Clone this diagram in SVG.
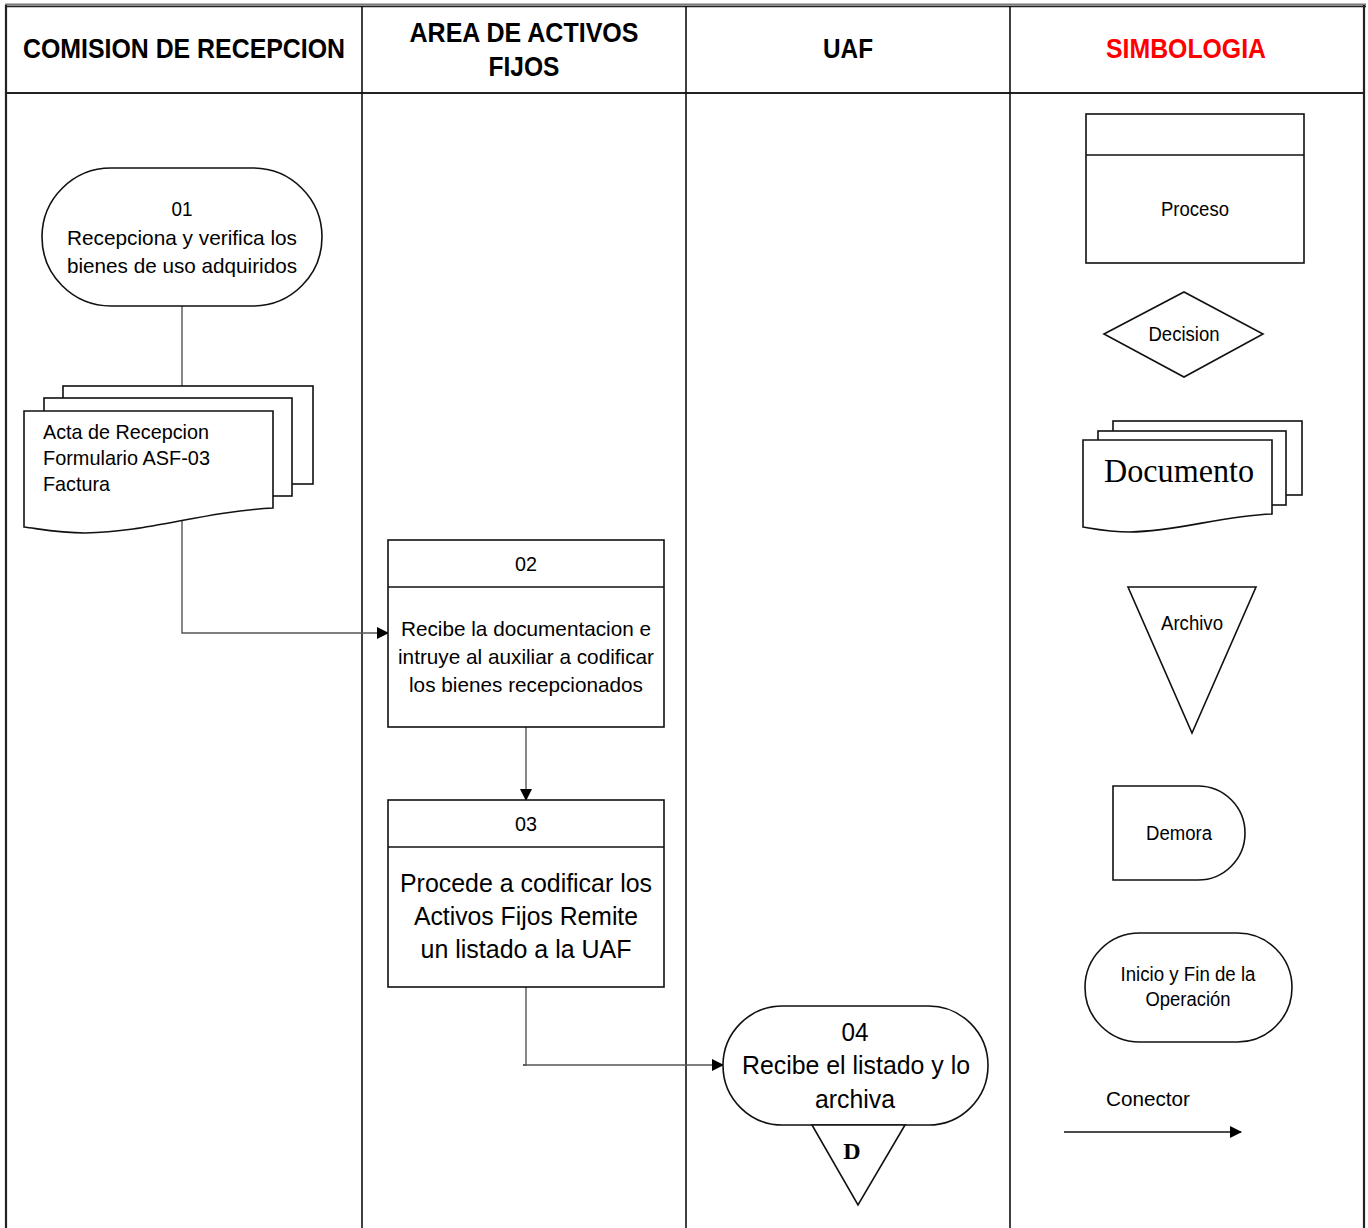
<svg xmlns="http://www.w3.org/2000/svg" width="1368" height="1228" viewBox="0 0 1368 1228">
  <style>
    .t { font-family: "Liberation Sans Narrow", "Liberation Sans", Arial, sans-serif; fill: #000; text-anchor: middle; }
    .hd { font-size: 28px; font-weight: bold; }
    .lane { stroke: #111; stroke-width: 1.6; fill: none; }
    .frame { stroke: #222; stroke-width: 2.2; fill: none; }
    .shape { stroke: #111; stroke-width: 1.6; fill: #fff; }
    .conn { stroke: #555; stroke-width: 1.4; fill: none; }
    .f21 { font-size: 21px; }
    .f26 { font-size: 26px; }
    .f19 { font-size: 19.5px; }
  </style>
  <defs>
    <marker id="arrow" viewBox="0 0 12 12" refX="11" refY="6" markerWidth="12" markerHeight="12" markerUnits="userSpaceOnUse" orient="auto">
      <path d="M0,0 L12,6 L0,12 Z" fill="#000"/>
    </marker>
  </defs>

  <rect width="1368" height="1228" fill="#fff"/>

  <!-- swimlane frame -->
  <g id="frame">
    <line x1="5" y1="4.5" x2="1366" y2="4.5" stroke="#777" stroke-width="2"/>
    <line x1="5" y1="6.5" x2="1366" y2="6.5" stroke="#222" stroke-width="1.5"/>
    <line class="frame" x1="6" y1="5" x2="6" y2="1228"/>
    <line class="frame" x1="1364" y1="5" x2="1364" y2="1228"/>
    <line class="frame" x1="6" y1="93" x2="1364" y2="93"/>
    <line class="lane" x1="362" y1="6" x2="362" y2="1228"/>
    <line class="lane" x1="686" y1="6" x2="686" y2="1228"/>
    <line class="lane" x1="1010" y1="6" x2="1010" y2="1228"/>
  </g>

  <!-- lane headers -->
  <g id="headers" lengthAdjust="spacingAndGlyphs">
    <text class="t hd" x="184" y="58" textLength="322" lengthAdjust="spacingAndGlyphs">COMISION DE RECEPCION</text>
    <text class="t hd" x="524" y="42" textLength="229" lengthAdjust="spacingAndGlyphs">AREA DE ACTIVOS</text>
    <text class="t hd" x="524" y="76" textLength="71" lengthAdjust="spacingAndGlyphs">FIJOS</text>
    <text class="t hd" x="848" y="58" textLength="50" lengthAdjust="spacingAndGlyphs">UAF</text>
    <text class="t hd" x="1186" y="58" textLength="160" lengthAdjust="spacingAndGlyphs" style="fill:#f00">SIMBOLOGIA</text>
  </g>

  <!-- connectors -->
  <g id="connectors">
    <line class="conn" x1="182" y1="306" x2="182" y2="387"/>
    <polyline class="conn" points="182,514 182,633 388,633" marker-end="url(#arrow)"/>
    <line class="conn" x1="526" y1="727" x2="526" y2="800" stroke="#222" marker-end="url(#arrow)"/>
    <polyline class="conn" points="526,987 526,1065 523,1065"/>
    <line class="conn" x1="523" y1="1065" x2="723" y2="1065" marker-end="url(#arrow)"/>
  </g>

  <!-- 01: start -->
  <g id="n01">
    <rect class="shape" x="42" y="168" width="280" height="138" rx="69" ry="69"/>
    <text class="t f21" x="182" y="216" textLength="21" lengthAdjust="spacingAndGlyphs">01</text>
    <text class="t f21" x="182" y="245" textLength="230" lengthAdjust="spacingAndGlyphs">Recepciona y verifica los</text>
    <text class="t f21" x="182" y="273" textLength="230" lengthAdjust="spacingAndGlyphs">bienes de uso adquiridos</text>
  </g>

  <!-- documents produced by 01 -->
  <g id="docs01">
    <rect class="shape" x="63" y="386" width="250" height="98"/>
    <rect class="shape" x="44" y="398" width="248" height="98"/>
    <path class="shape" d="M24,411 H273 V508 C200,512 150,532 85,533 C60,533 40,529 24,527 Z"/>
    <text class="t f21" x="43" y="439" style="text-anchor:start" textLength="166" lengthAdjust="spacingAndGlyphs">Acta de Recepcion</text>
    <text class="t f21" x="43" y="465" style="text-anchor:start" textLength="167" lengthAdjust="spacingAndGlyphs">Formulario ASF-03</text>
    <text class="t f21" x="43" y="491" style="text-anchor:start" textLength="67" lengthAdjust="spacingAndGlyphs">Factura</text>
  </g>

  <!-- 02 -->
  <g id="n02">
    <rect class="shape" x="388" y="540" width="276" height="187"/>
    <line class="shape" x1="388" y1="587" x2="664" y2="587"/>
    <text class="t f21" x="526" y="571" textLength="22" lengthAdjust="spacingAndGlyphs">02</text>
    <text class="t f21" x="526" y="636" textLength="250" lengthAdjust="spacingAndGlyphs">Recibe la documentacion e</text>
    <text class="t f21" x="526" y="664" textLength="256" lengthAdjust="spacingAndGlyphs">intruye al auxiliar a codificar</text>
    <text class="t f21" x="526" y="692" textLength="234" lengthAdjust="spacingAndGlyphs">los bienes recepcionados</text>
  </g>

  <!-- 03 -->
  <g id="n03">
    <rect class="shape" x="388" y="800" width="276" height="187"/>
    <line class="shape" x1="388" y1="847" x2="664" y2="847"/>
    <text class="t f21" x="526" y="831" textLength="22" lengthAdjust="spacingAndGlyphs">03</text>
    <text class="t f26" x="526" y="892" textLength="252" lengthAdjust="spacingAndGlyphs">Procede a codificar los</text>
    <text class="t f26" x="526" y="925" textLength="224" lengthAdjust="spacingAndGlyphs">Activos Fijos Remite</text>
    <text class="t f26" x="526" y="958" textLength="211" lengthAdjust="spacingAndGlyphs">un listado a la UAF</text>
  </g>

  <!-- 04: end, with archive mark -->
  <g id="n04">
    <rect class="shape" x="723" y="1006" width="265" height="119" rx="59.5" ry="59.5"/>
    <path class="shape" d="M812,1125 L905,1125 L858,1205 Z"/>
    <text x="852" y="1159" style="font-family:'Liberation Serif',serif;font-weight:bold;font-size:24px;text-anchor:middle">D</text>
    <text class="t f26" x="855" y="1041" textLength="27" lengthAdjust="spacingAndGlyphs">04</text>
    <text class="t f26" x="856" y="1074" textLength="228" lengthAdjust="spacingAndGlyphs">Recibe el listado y lo</text>
    <text class="t f26" x="855" y="1108" textLength="80" lengthAdjust="spacingAndGlyphs">archiva</text>
  </g>

  <!-- legend -->
  <g id="legend-proceso">
    <rect class="shape" x="1086" y="114" width="218" height="149"/>
    <line class="shape" x1="1086" y1="155" x2="1304" y2="155"/>
    <text class="t f19" x="1195" y="216" textLength="68" lengthAdjust="spacingAndGlyphs">Proceso</text>
  </g>
  <g id="legend-decision">
    <path class="shape" d="M1104,334 L1184,292 L1263,334 L1184,377 Z"/>
    <text class="t f19" x="1184" y="341" textLength="71" lengthAdjust="spacingAndGlyphs">Decision</text>
  </g>
  <g id="legend-documento">
    <rect class="shape" x="1113" y="421" width="189" height="74"/>
    <rect class="shape" x="1098" y="431" width="188" height="74"/>
    <path class="shape" d="M1083,440 H1272 V514 C1220,516 1180,531 1130,532 C1110,532 1095,529 1083,527 Z"/>
    <text x="1179" y="482" style="font-family:'Liberation Serif',serif;font-size:34px;text-anchor:middle" textLength="150" lengthAdjust="spacingAndGlyphs">Documento</text>
  </g>
  <g id="legend-archivo">
    <path class="shape" d="M1128,587 L1256,587 L1192,733 Z"/>
    <text class="t f19" x="1192" y="630" textLength="62" lengthAdjust="spacingAndGlyphs">Archivo</text>
  </g>
  <g id="legend-demora">
    <path class="shape" d="M1113,786 H1198 A47,47 0 0 1 1198,880 H1113 Z"/>
    <text class="t f19" x="1179" y="840" textLength="66" lengthAdjust="spacingAndGlyphs">Demora</text>
  </g>
  <g id="legend-inicio">
    <rect class="shape" x="1085" y="933" width="207" height="109" rx="54.5" ry="54.5"/>
    <text class="t f19" x="1188" y="981" textLength="135" lengthAdjust="spacingAndGlyphs">Inicio y Fin de la</text>
    <text class="t f19" x="1188" y="1006" textLength="85" lengthAdjust="spacingAndGlyphs">Operación</text>
  </g>
  <g id="legend-conector">
    <text class="t" x="1106" y="1106" style="font-size:21px;text-anchor:start" textLength="84" lengthAdjust="spacingAndGlyphs">Conector</text>
    <line x1="1064" y1="1132" x2="1241" y2="1132" stroke="#111" stroke-width="1.4" marker-end="url(#arrow)"/>
  </g>
</svg>
